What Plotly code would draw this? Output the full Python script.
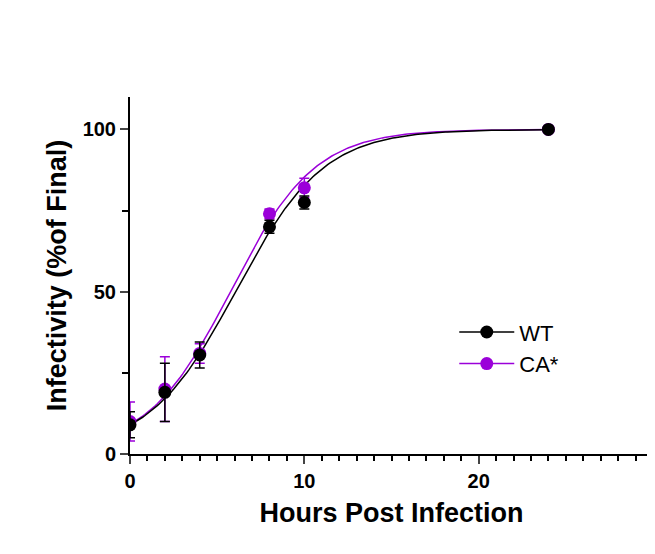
import numpy as np
import plotly.graph_objects as go

hours = [0, 2, 4, 8, 10, 24]
wt = [9, 19, 30.5, 70, 77.5, 100]
wt_err = [4, 9, 4, 2, 2, 0]
ca = [10, 20, 31, 74, 82, 100]
ca_err = [6, 10, 3, 1.5, 3, 0]
# fitted sigmoid parameters (bottom, top, midpoint, slope)
wt_fit = (1, 100, 6.1, 2.5)
ca_fit = (1, 100, 5.8, 2.4)

BLACK = "#000000"
PURPLE = "#9B00D9"

def curve(p):
    xs = np.linspace(0, 24, 200)
    b, t, x0, s = p
    return xs, b + (t - b) / (1 + np.exp(-(xs - x0) / s))

fig = go.Figure()
for name, ys, err, p, col in [("CA*", ca, ca_err, ca_fit, PURPLE), ("WT", wt, wt_err, wt_fit, BLACK)]:
    cx, cy = curve(p)
    fig.add_trace(go.Scatter(x=cx, y=cy, mode="lines", line=dict(color=col, width=1.5), showlegend=False))
for name, ys, err, p, col in [("CA*", ca, ca_err, ca_fit, PURPLE), ("WT", wt, wt_err, wt_fit, BLACK)]:
    fig.add_trace(go.Scatter(x=hours, y=ys, mode="markers", name=name, showlegend=False,
                             marker=dict(color=col, size=13),
                             error_y=dict(type="data", array=err, color=col, thickness=1.5, width=5)))
for name, col in [("WT", BLACK), ("CA*", PURPLE)]:
    fig.add_trace(go.Scatter(x=[None], y=[None], mode="lines+markers", name=name,
                             line=dict(color=col, width=1.5), marker=dict(color=col, size=13)))

fig.update_layout(
    width=655, height=554, plot_bgcolor="white", paper_bgcolor="white",
    margin=dict(l=122, r=10, t=89, b=108),
    font=dict(family="Liberation Sans, Arial", color="black", size=20),
    showlegend=True,
    legend=dict(x=0.62, y=0.4, xanchor="left", yanchor="top", font=dict(size=22),
                itemwidth=55, tracegroupgap=12, bgcolor="rgba(0,0,0,0)"),
    xaxis=dict(range=[0, 30], tickvals=[0, 10, 20, 30], ticktext=["<b>0</b>", "<b>10</b>", "<b>20</b>", "<b>30</b>"],
               showline=True, linecolor="black", linewidth=2,
               ticks="outside", ticklen=8, tickwidth=2, showgrid=False, zeroline=False,
               minor=dict(dtick=1, ticks="outside", ticklen=5, tickwidth=1.5, tickcolor="black"),
               title=dict(text="<b>Hours Post Infection</b>", font=dict(size=27), standoff=12)),
    yaxis=dict(range=[0, 110], tickvals=[0, 50, 100], ticktext=["<b>0</b>", "<b>50</b>", "<b>100</b>"],
               showline=True, linecolor="black", linewidth=2,
               ticks="outside", ticklen=8, tickwidth=2, showgrid=False, zeroline=False,
               minor=dict(tickvals=[25, 75], ticks="outside", ticklen=6, tickwidth=1.5, tickcolor="black"),
               title=dict(text="<b>Infectivity (%of Final)</b>", font=dict(size=27), standoff=8)),
)
fig.write_html("out.html")
